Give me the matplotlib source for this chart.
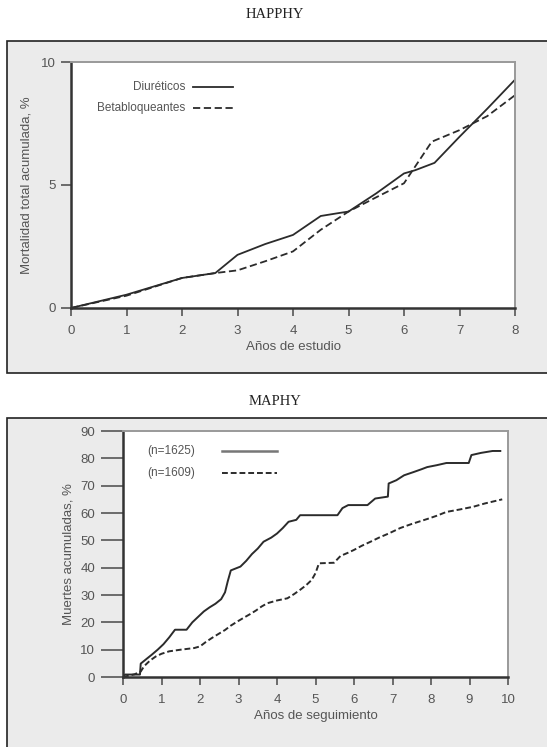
import matplotlib.pyplot as plt
from matplotlib.patches import Rectangle

# ---- data ----
# HAPPHY: cumulative total mortality, %
happhy_diur_x = [0, 1, 2, 2.6, 3, 3.5, 4, 4.5, 4.8, 5, 5.5, 6, 6.2, 6.55, 7, 7.5, 8]
happhy_diur_y = [0, 0.54, 1.22, 1.42, 2.16, 2.6, 2.97, 3.74, 3.85, 3.92, 4.66, 5.47, 5.6, 5.9, 6.96, 8.1, 9.28]
happhy_beta_x = [0, 1, 2, 2.6, 3, 3.5, 4, 4.5, 5, 5.5, 6, 6.5, 7, 7.5, 8]
happhy_beta_y = [0, 0.5, 1.22, 1.42, 1.53, 1.9, 2.3, 3.18, 3.92, 4.5, 5.07, 6.76, 7.23, 7.8, 8.65]

# MAPHY: cumulative deaths, %
maphy_a_x = [0, 0.05, 0.44, 0.46, 0.6, 0.75, 0.9, 1.05, 1.2, 1.35, 1.65, 1.8, 1.95,
             2.1, 2.25, 2.4, 2.55, 2.65, 2.72, 2.8, 3.05, 3.2, 3.35, 3.5, 3.65,
             3.85, 4.0, 4.15, 4.3, 4.5, 4.6, 5.57, 5.7, 5.85, 6.35, 6.55, 6.88, 6.9,
             7.1, 7.3, 7.55, 7.75, 7.9, 8.15, 8.4, 8.98, 9.05, 9.3, 9.6, 9.8]
maphy_a_y = [0, 0.9, 0.9, 4.9, 6.5, 8.2, 10, 12, 14.5, 17.3, 17.3, 20, 22,
             24, 25.5, 26.8, 28.5, 31, 35, 39, 40.4, 42.5, 45, 47, 49.5,
             51, 52.5, 54.5, 56.8, 57.5, 59.2, 59.2, 61.8, 62.9, 62.9, 65.3, 66, 70.8,
             72, 73.8, 75, 76, 76.8, 77.5, 78.3, 78.3, 81.2, 82, 82.7, 82.7]
maphy_b_x = [0, 0.3, 0.46, 0.55, 0.7, 0.85, 1.0, 1.2, 1.5, 1.85, 2.0, 2.15,
             2.3, 2.45, 2.65, 2.8, 2.97, 3.15, 3.3, 3.45, 3.6, 3.75, 4.0, 4.27,
             4.45, 4.6, 4.75, 4.9, 5.0, 5.09, 5.48, 5.65, 5.85, 6.0, 6.2, 6.43,
             6.65, 6.9, 7.2, 7.5, 7.9, 8.15, 8.4, 8.75, 9.1, 9.4, 9.85]
maphy_b_y = [0, 1, 2, 4, 6, 7.5, 8.5, 9.4, 10, 10.6, 11.2, 12.8,
             14.2, 15.5, 17.2, 18.8, 20.3, 21.8, 23, 24.3, 25.8, 27, 28, 28.8,
             30.4, 31.9, 33.5, 35.5, 38, 41.6, 41.8, 44.3, 45.5, 46.5, 48, 49.5,
             51, 52.5, 54.5, 56, 57.8, 59, 60.4, 61.3, 62.3, 63.5, 65]

LINE = '#2b2b2b'
TXT = '#555555'
SANS = ['Liberation Sans', 'DejaVu Sans']
DASH = (0, (4, 2))

fig = plt.figure(figsize=(5.47, 7.47), dpi=100)
fig.patch.set_facecolor('white')

# grey panel boxes (behind the axes)
fig.patches.append(Rectangle((0.0128, 0.5007), 1.0, 0.4444, transform=fig.transFigure,
                             facecolor='#ebebeb', edgecolor='#222222', lw=1.2, zorder=-5))
fig.patches.append(Rectangle((0.0128, -0.01), 1.0, 0.4504, transform=fig.transFigure,
                             facecolor='#ebebeb', edgecolor='#222222', lw=1.2, zorder=-5))

fig.text(0.503, 0.98, 'HAPPHY', ha='center', va='center', family='Liberation Serif',
         fontsize=10.5, color='#222222')
fig.text(0.503, 0.462, 'MAPHY', ha='center', va='center', family='Liberation Serif',
         fontsize=10.5, color='#222222')


def style_axes(ax, ylen):
    ax.set_facecolor('white')
    for side in ['left', 'bottom']:
        ax.spines[side].set_color('#333333')
        ax.spines[side].set_linewidth(1.8)
    for side in ['top', 'right']:
        ax.spines[side].set_color('#999999')
        ax.spines[side].set_linewidth(1.4)
    ax.tick_params(axis='y', direction='out', length=ylen, width=1.2, color='#555555',
                   labelcolor=TXT, labelsize=9.5, pad=4)
    ax.tick_params(axis='x', direction='out', length=6, width=1.2, color='#555555',
                   labelcolor=TXT, labelsize=9.5, pad=6)
    for lab in ax.get_xticklabels() + ax.get_yticklabels():
        lab.set_family(SANS)


# ---- HAPPHY ----
ax1 = fig.add_axes([0.1298, 0.5877, 0.8117, 0.3293])
ax1.plot(happhy_diur_x, happhy_diur_y, color=LINE, lw=1.3)
ax1.plot(happhy_beta_x, happhy_beta_y, color=LINE, lw=1.3, ls=DASH)
ax1.set_xlim(0, 8)
ax1.set_ylim(0, 10)
ax1.set_xticks(range(0, 9))
ax1.set_yticks([0, 5, 10])
style_axes(ax1, 7)
ax1.set_xlabel('Años de estudio', family=SANS, fontsize=9.5, color=TXT, labelpad=3)
ax1.set_ylabel('Mortalidad total acumulada, %', family=SANS, fontsize=9.5, color=TXT, labelpad=6)

ax1.text(0.257, 0.898, 'Diuréticos', transform=ax1.transAxes, ha='right', va='center',
         family=SANS, fontsize=8.5, color=TXT)
ax1.text(0.257, 0.813, 'Betabloqueantes', transform=ax1.transAxes, ha='right', va='center',
         family=SANS, fontsize=8.5, color=TXT)
ax1.plot([0.275, 0.365], [0.898, 0.898], transform=ax1.transAxes, color=LINE, lw=1.3)
ax1.plot([0.275, 0.365], [0.813, 0.813], transform=ax1.transAxes, color=LINE, lw=1.3, ls=DASH)

# ---- MAPHY ----
ax2 = fig.add_axes([0.2249, 0.0937, 0.7038, 0.3293])
ax2.plot(maphy_a_x, maphy_a_y, color=LINE, lw=1.4)
ax2.plot(maphy_b_x, maphy_b_y, color=LINE, lw=1.4, ls=(0, (3, 1.5)))
ax2.set_xlim(0, 10)
ax2.set_ylim(0, 90)
ax2.set_xticks(range(0, 11))
ax2.set_yticks(range(0, 91, 10))
style_axes(ax2, 16)
ax2.set_xlabel('Años de seguimiento', family=SANS, fontsize=9.5, color=TXT, labelpad=3)
ax2.set_ylabel('Muertes acumuladas, %', family=SANS, fontsize=9.5, color=TXT, labelpad=4)

ax2.text(0.062, 0.919, '(n=1625)', transform=ax2.transAxes, ha='left', va='center',
         family=SANS, fontsize=8.5, color=TXT)
ax2.text(0.062, 0.829, '(n=1609)', transform=ax2.transAxes, ha='left', va='center',
         family=SANS, fontsize=8.5, color=TXT)
ax2.plot([0.257, 0.40], [0.919, 0.919], transform=ax2.transAxes, color='#777777', lw=1.8)
ax2.plot([0.257, 0.40], [0.829, 0.829], transform=ax2.transAxes, color=LINE, lw=1.4,
         ls=(0, (3, 1.5)))

fig.savefig('out.png', dpi=100, facecolor=fig.get_facecolor())
